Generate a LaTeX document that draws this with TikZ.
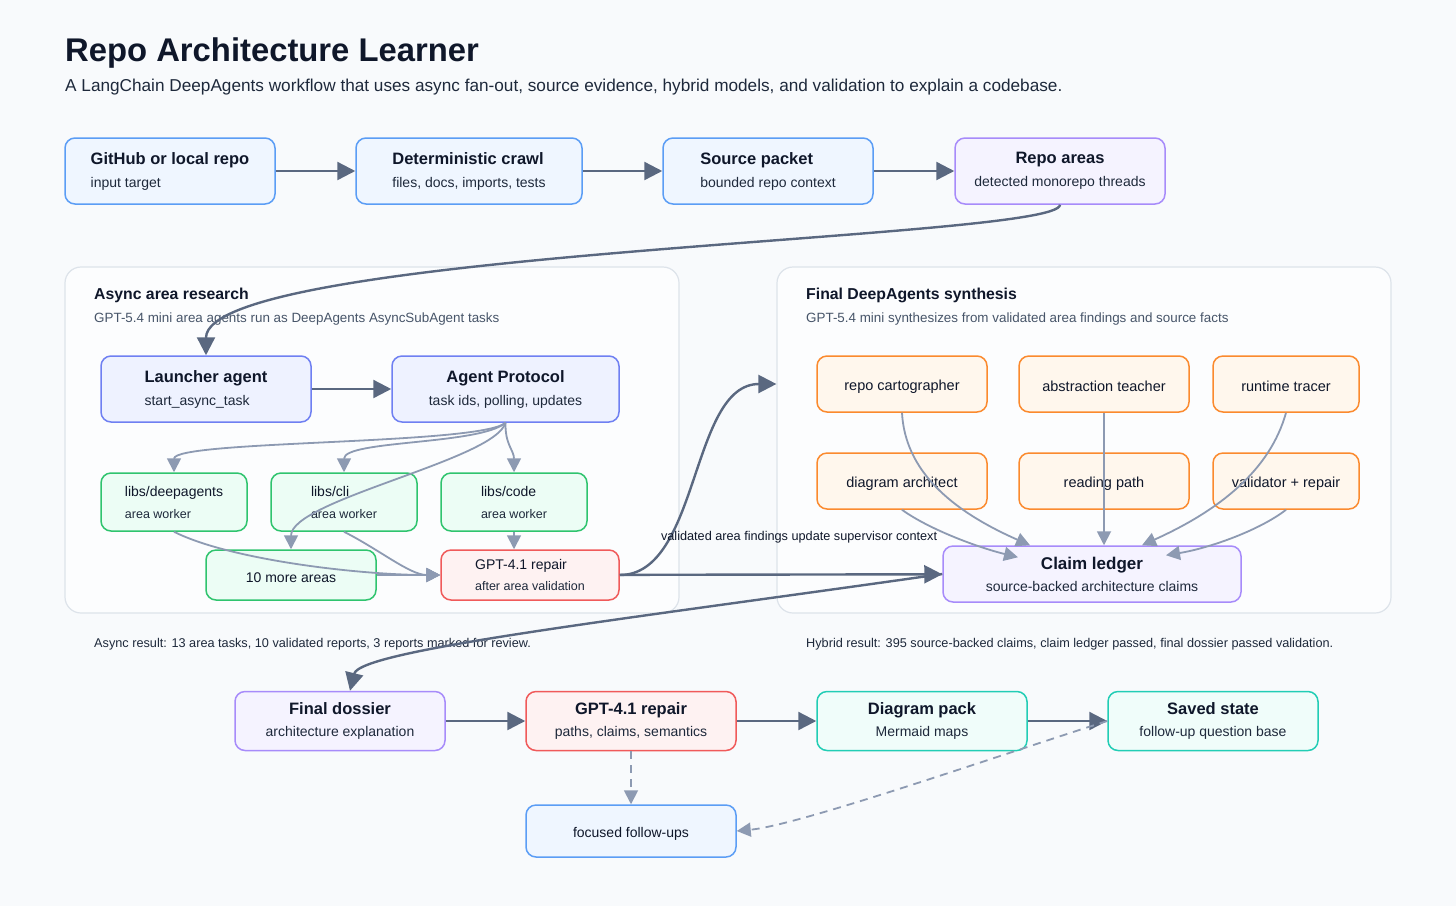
\documentclass[tikz,border=0pt]{standalone}
\usepackage{fontspec}
\setmainfont{Liberation Sans}
\usepackage{tikz}
\usetikzlibrary{arrows.meta}

\definecolor{pagebg}{HTML}{F8FAFC}
\definecolor{inkdark}{HTML}{0F172A}
\definecolor{inksub}{HTML}{1E293B}
\definecolor{inkmuted}{HTML}{475569}
\definecolor{edgedark}{HTML}{5A6880}
\definecolor{edgelight}{HTML}{8D9AB2}
\definecolor{panelline}{HTML}{DDE3EA}
\definecolor{blueline}{HTML}{5B9DF5}
\definecolor{bluefill}{HTML}{EFF6FF}
\definecolor{indigoline}{HTML}{6F80F2}
\definecolor{indigofill}{HTML}{EEF2FF}
\definecolor{purpleline}{HTML}{A78BFA}
\definecolor{purplefill}{HTML}{F5F3FF}
\definecolor{greenline}{HTML}{2FC46E}
\definecolor{greenfill}{HTML}{ECFDF5}
\definecolor{redline}{HTML}{F05A5A}
\definecolor{redfill}{HTML}{FEF2F2}
\definecolor{orangeline}{HTML}{FB8A2E}
\definecolor{orangefill}{HTML}{FFF7ED}
\definecolor{tealline}{HTML}{22CDB5}
\definecolor{tealfill}{HTML}{F0FDFA}

\newcommand{\boxtitle}[1]{{\fontsize{16.5}{20}\selectfont\bfseries #1}}
\newcommand{\boxsub}[1]{{\fontsize{14}{17}\selectfont\color{inksub}#1}}
\newcommand{\cardtitle}[1]{{\fontsize{14}{17}\selectfont #1}}
\newcommand{\cardsub}[1]{{\fontsize{12.5}{15}\selectfont\color{inksub}#1}}

\begin{document}
\begin{tikzpicture}[x=1pt, y=-1pt,
  box/.style={draw, rounded corners=10pt, line width=1.5pt, minimum height=66pt,
    inner sep=0pt, text=inkdark, align=left, font=\fontsize{14}{18}\selectfont,
    execute at begin node={\rule{0pt}{16pt}}},
  bluebox/.style={box, draw=blueline, fill=bluefill},
  indigobox/.style={box, draw=indigoline, fill=indigofill},
  purplebox/.style={box, draw=purpleline, fill=purplefill},
  greenbox/.style={box, draw=greenline, fill=greenfill, minimum width=146pt, minimum height=58pt},
  redbox/.style={box, draw=redline, fill=redfill},
  orangebox/.style={box, draw=orangeline, fill=orangefill, minimum height=56pt, font=\fontsize{14.5}{17}\selectfont},
  tealbox/.style={box, draw=tealline, fill=tealfill},
  panel/.style={draw=panelline, fill=white!60!pagebg, rounded corners=16pt, line width=1.2pt,
    minimum width=614pt, minimum height=346pt},
  paneltitle/.style={anchor=base west, inner sep=0pt, text=inkdark, font=\fontsize{15.8}{19}\selectfont\bfseries},
  panelsub/.style={anchor=base west, inner sep=0pt, text=inkmuted, font=\fontsize{13.4}{16}\selectfont},
  note/.style={anchor=base west, inner sep=0pt, text=inksub, font=\fontsize{12.7}{15}\selectfont},
  flow/.style={draw=edgedark, line width=2.4pt, -{Triangle[length=18pt, width=18pt]}},
  feed/.style={draw=edgelight, line width=1.8pt, -{Triangle[length=14pt, width=14pt]}},
  hint/.style={feed, dash pattern=on 8pt off 6pt}]

\fill[pagebg] (0,0) rectangle (1456,906);
\useasboundingbox (0,0) rectangle (1456,906);

% heading
\node[anchor=base west, inner sep=0pt, text=inkdark, font=\fontsize{32.8}{38}\selectfont\bfseries] (title) at (65,61) {Repo Architecture Learner};
\node[anchor=base west, inner sep=0pt, text=inksub, font=\fontsize{17.2}{20}\selectfont] (subtitle) at (65,91)
  {A LangChain DeepAgents workflow that uses async fan-out, source evidence, hybrid models, and validation to explain a codebase.};

% intake row
\node[bluebox, minimum width=210pt] (repo) at (170,171) {\boxtitle{GitHub or local repo}\\[5pt]\boxsub{input target}};
\node[bluebox, minimum width=226pt] (crawl) at (469,171) {\boxtitle{Deterministic crawl}\\[5pt]\boxsub{files, docs, imports, tests}};
\node[bluebox, minimum width=210pt] (packet) at (768,171) {\boxtitle{Source packet}\\[5pt]\boxsub{bounded repo context}};
\node[purplebox, minimum width=210pt, align=center] (areas) at (1060,171) {\boxtitle{Repo areas}\\[5pt]\boxsub{detected monorepo threads}};

% async panel
\node[panel] (async) at (372,440) {};
\node[paneltitle] (asynchead) at (94,299) {Async area research};
\node[panelsub] (asyncsub) at (94,322) {GPT-5.4 mini area agents run as DeepAgents AsyncSubAgent tasks};
\node[indigobox, minimum width=210pt] (launcher) at (206,389) {\boxtitle{Launcher agent}\\[5pt]\boxsub{start\_async\_task}};
\node[indigobox, minimum width=227pt, align=center] (protocol) at (505.5,389) {\boxtitle{Agent Protocol}\\[5pt]\boxsub{task ids, polling, updates}};
\node[greenbox] (deep) at (174,502) {\cardtitle{libs/deepagents}\\[4pt]\cardsub{area worker}};
\node[greenbox] (cli) at (344,502) {\cardtitle{libs/cli}\\[4pt]\cardsub{area worker}};
\node[greenbox] (code) at (514,502) {\cardtitle{libs/code}\\[4pt]\cardsub{area worker}};
\node[greenbox, minimum width=170pt, minimum height=50pt] (more) at (291,575) {\cardtitle{10 more areas}};
\node[redbox, minimum width=178pt, minimum height=50pt] (arearepair) at (530,575) {\cardtitle{GPT-4.1 repair}\\[3pt]\cardsub{after area validation}};

% synthesis panel
\node[panel] (synth) at (1084,440) {};
\node[paneltitle] (synthhead) at (806,299) {Final DeepAgents synthesis};
\node[panelsub] (synthsub) at (806,322) {GPT-5.4 mini synthesizes from validated area findings and source facts};
\node[orangebox, minimum width=170pt] (carto) at (902,384) {repo cartographer};
\node[orangebox, minimum width=170pt] (teacher) at (1104,384) {abstraction teacher};
\node[orangebox, minimum width=146pt] (tracer) at (1286,384) {runtime tracer};
\node[orangebox, minimum width=170pt] (architect) at (902,481) {diagram architect};
\node[orangebox, minimum width=170pt] (reading) at (1104,481) {reading path};
\node[orangebox, minimum width=146pt] (validator) at (1286,481) {validator + repair};
\node[purplebox, minimum width=298pt, minimum height=56pt, align=center] (ledger) at (1092,574)
  {{\fontsize{17}{20}\selectfont\bfseries Claim ledger}\\[4pt]\boxsub{source-backed architecture claims}};

% results
\node[note] (asyncnote) at (94,647) {Async result: 13 area tasks, 10 validated reports, 3 reports marked for review.};
\node[note] (hybridnote) at (806,647) {Hybrid result: 395 source-backed claims, claim ledger passed, final dossier passed validation.};

% output row
\node[purplebox, minimum width=210pt, minimum height=59pt, align=center] (dossier) at (340,721) {\boxtitle{Final dossier}\\[4pt]\boxsub{architecture explanation}};
\node[redbox, minimum width=210pt, minimum height=59pt, align=center] (fixup) at (631,721) {\boxtitle{GPT-4.1 repair}\\[4pt]\boxsub{paths, claims, semantics}};
\node[tealbox, minimum width=210pt, minimum height=59pt, align=center] (diagpack) at (922,721) {\boxtitle{Diagram pack}\\[4pt]\boxsub{Mermaid maps}};
\node[tealbox, minimum width=210pt, minimum height=59pt, align=center] (saved) at (1213,721) {\boxtitle{Saved state}\\[4pt]\boxsub{follow-up question base}};
\node[bluebox, minimum width=210pt, minimum height=52pt, align=center] (followups) at (631,831) {\cardtitle{focused follow-ups}};

% main flow
\draw[flow] (repo) -- (crawl);
\draw[flow] (crawl) -- (packet);
\draw[flow] (packet) -- (areas);
\draw[flow] (areas.south) .. controls (1060,240) and (206,250) .. (launcher.north);
\draw[flow] (launcher) -- (protocol);

% fan-out to area workers
\draw[feed] (protocol.south) .. controls (480,445) and (174,440) .. (deep.north);
\draw[feed] (protocol.south) .. controls (480,445) and (344,440) .. (cli.north);
\draw[feed] (protocol.south) .. controls (505,445) and (514,450) .. (code.north);
\draw[feed] (protocol.south) .. controls (495,460) and (291,500) .. (more.north);
\draw[feed] (deep.south) .. controls (230,560) and (360,575) .. (arearepair.west);
\draw[feed] (cli.south) .. controls (380,550) and (410,575) .. (arearepair.west);
\draw[feed] (code.south) -- (code.south |- arearepair.north);
\draw[feed] (more) -- (arearepair);

% into synthesis
\draw[flow] (arearepair.east) .. controls (700,575) and (690,384) .. (synth.west |- carto);
\draw[flow] (arearepair) -- (ledger)
  node[pos=0.556, above=27pt, text=inkdark, font=\fontsize{12.7}{15}\selectfont] (ctxlabel) {validated area findings update supervisor context};
\draw[feed] (carto.south) .. controls (905,470) and (950,510) .. ([xshift=-62pt]ledger.north);
\draw[feed] (architect.south) .. controls (930,530) and (980,548) .. ([xshift=-74pt, yshift=-12pt]ledger.north);
\draw[feed] (teacher.south) -- (teacher.south |- ledger.north);
\draw[feed] (tracer.south) .. controls (1270,470) and (1220,510) .. ([xshift=50pt]ledger.north);
\draw[feed] (validator.south) .. controls (1260,530) and (1210,548) .. ([xshift=74pt, yshift=-10pt]ledger.north);

% outputs
\draw[flow] (ledger.west) .. controls (620,620) and (360,650) .. ([xshift=10pt]dossier.north);
\draw[flow] (dossier) -- (fixup);
\draw[flow] (fixup) -- (diagpack);
\draw[flow] (diagpack) -- (saved);
\draw[hint] (fixup) -- (followups);
\draw[hint] (saved.west) .. controls (1000,755) and (800,825) .. (followups.east);
\end{tikzpicture}
\end{document}
